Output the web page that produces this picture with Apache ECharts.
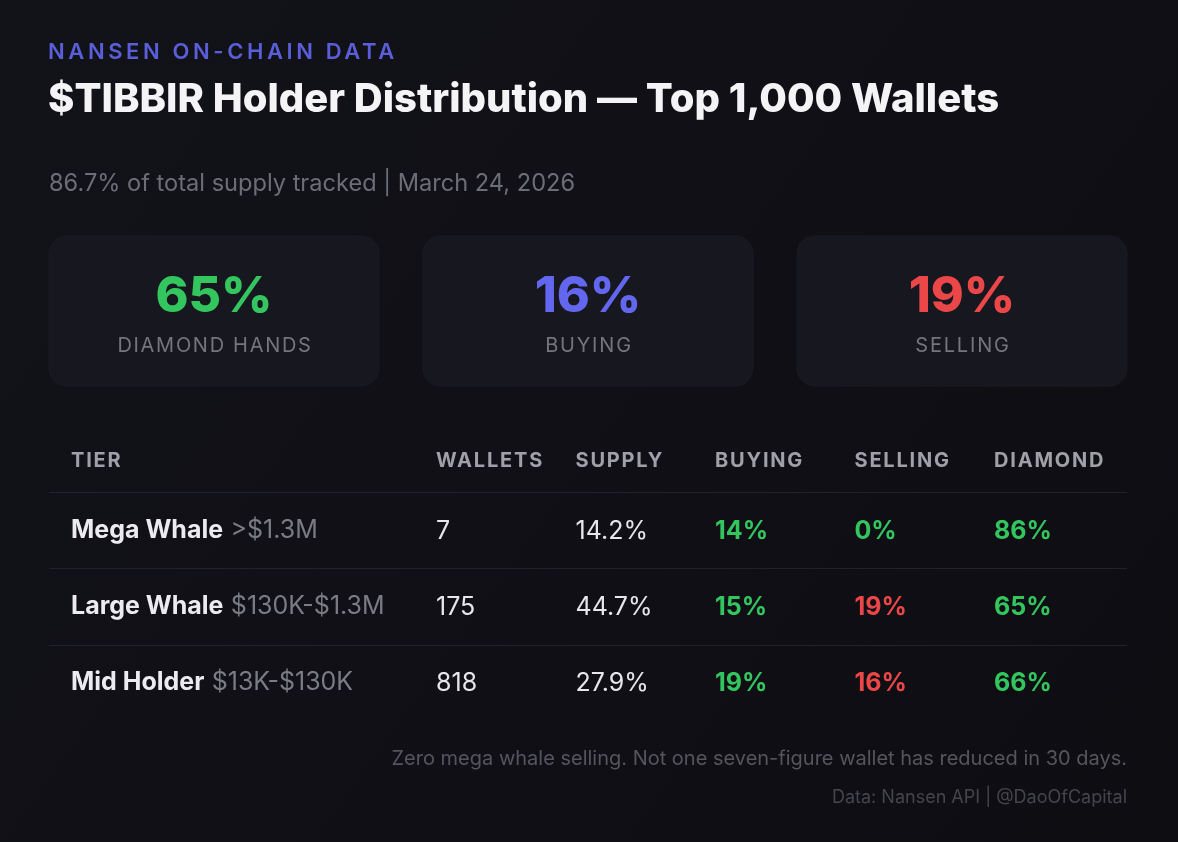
<!DOCTYPE html>
<html>
<head>
<meta charset="utf-8">
<script src="https://cdn.jsdelivr.net/npm/echarts@6/dist/echarts.min.js"></script>
<style>
  html, body { margin: 0; padding: 0; background: #0f0f15; }
  #chart { width: 1178px; height: 842px; }
</style>
</head>
<body>
<div id="chart"></div>
<script>
// ---- data ----
const kicker = 'NANSEN ON-CHAIN DATA';
const headline = '$TIBBIR Holder Distribution \u2014 Top 1,000 Wallets';
const subline = '86.7% of total supply tracked | March 24, 2026';
const cardLabels = ['DIAMOND HANDS', 'BUYING', 'SELLING'];
const cardValues = [65, 16, 19];
const columns = ['WALLETS', 'SUPPLY', 'BUYING', 'SELLING', 'DIAMOND'];
const tierHeader = 'TIER';
const tiers = ['Mega Whale', 'Large Whale', 'Mid Holder'];
const tierRanges = ['>$1.3M', '$130K-$1.3M', '$13K-$130K'];
const wallets = [7, 175, 818];
const supplyPct = [14.2, 44.7, 27.9];
const buyingPct = [14, 15, 19];
const sellingPct = [0, 19, 16];
const diamondPct = [86, 65, 66];
const note = 'Zero mega whale selling. Not one seven-figure wallet has reduced in 30 days.';
const credit = 'Data: Nansen API | @DaoOfCapital';

// ---- style ----
const FONT = 'Inter, "Noto Sans", sans-serif';
const GREEN = '#33c65f';
const RED = '#ec4748';
const INDIGO = '#6366ee';
const cardColors = [GREEN, INDIGO, RED];

// letter tracking for the small-caps style labels (canvas letterSpacing)
const tracking = new Map();
tracking.set(kicker, '3.6px');
cardLabels.forEach(t => tracking.set(t, '1.7px'));
columns.forEach(t => tracking.set(t, '1.8px'));
tracking.set(tierHeader, '1.8px');
const origFillText = CanvasRenderingContext2D.prototype.fillText;
function callFill(ctx, t, x, y, mw) {
  return mw === undefined ? origFillText.call(ctx, t, x, y) : origFillText.call(ctx, t, x, y, mw);
}
CanvasRenderingContext2D.prototype.fillText = function (t, x, y, mw) {
  if ('letterSpacing' in this) {
    const ls = tracking.get(t) || '0px';
    if (this.letterSpacing !== ls) {
      const f = this.font;
      this.letterSpacing = ls;
      this.font = f;
    }
  }
  return callFill(this, t, x, y, mw);
};

// build table cells from the arrays
const cells = [];
tiers.forEach((t, r) => {
  cells.push([0, r, String(wallets[r]), 'plain']);
  cells.push([1, r, supplyPct[r].toFixed(1) + '%', 'plain']);
  cells.push([2, r, buyingPct[r] + '%', 'good']);
  cells.push([3, r, sellingPct[r] + '%', sellingPct[r] > 0 ? 'bad' : 'good']);
  cells.push([4, r, diamondPct[r] + '%', 'good']);
});
const cellColor = { plain: '#e6e6ec', good: GREEN, bad: RED };

const chart = echarts.init(document.getElementById('chart'));
chart.setOption({
  backgroundColor: {
    type: 'linear', x: 0, y: 0, x2: 1, y2: 1,
    colorStops: [{ offset: 0, color: '#121219' }, { offset: 1, color: '#0d0d12' }]
  },
  animation: false,
  title: [
    { text: kicker, left: 48, top: 41, padding: 0,
      textStyle: { color: '#5a5ed8', fontFamily: FONT, fontSize: 22, fontWeight: 600 } },
    { text: headline, left: 48, top: 80, padding: 0,
      textStyle: { color: '#f4f4f6', fontFamily: FONT, fontSize: 40, fontWeight: 800 } },
    { text: subline, left: 49, top: 172, padding: 0,
      textStyle: { color: '#6d6d76', fontFamily: FONT, fontSize: 23.6, fontWeight: 400 } },
    { text: note, right: 51, top: 749, padding: 0,
      textStyle: { color: '#55555e', fontFamily: FONT, fontSize: 20, fontWeight: 400 } },
    { text: credit, right: 51, top: 789, padding: 0,
      textStyle: { color: '#45454e', fontFamily: FONT, fontSize: 18, fontWeight: 400 } }
  ],
  graphic: [
    { type: 'text', left: 71, top: 451,
      style: { text: tierHeader, fill: '#a0a0a8', font: '700 20px ' + FONT } }
  ],
  grid: [
    { left: 27, right: 29, top: 236, height: 150 },
    { left: 436, width: 558, top: 492, height: 229 }
  ],
  xAxis: [
    { gridIndex: 0, type: 'category', data: cardLabels, show: false },
    { gridIndex: 1, type: 'category', data: columns, boundaryGap: false, position: 'top',
      axisLine: { show: false }, axisTick: { show: false }, splitLine: { show: false },
      axisLabel: { color: '#a0a0a8', fontFamily: FONT, fontSize: 20, fontWeight: 700,
        align: 'left', verticalAlign: 'middle', margin: 31, interval: 0 } }
  ],
  yAxis: [
    { gridIndex: 0, type: 'value', min: 0, max: 1, show: false },
    { gridIndex: 1, type: 'category', data: tiers, inverse: true,
      axisLine: { show: false }, axisTick: { show: false }, splitLine: { show: false },
      axisLabel: {
        align: 'left', margin: 365, interval: 0,
        formatter: (v, i) => '{n|' + v + '} {r|' + tierRanges[i] + '}',
        rich: {
          n: { color: '#ebebf0', fontFamily: FONT, fontSize: 25, fontWeight: 700 },
          r: { color: '#7b7b84', fontFamily: FONT, fontSize: 25, fontWeight: 400, padding: [0, 0, 0, 4] }
        }
      } }
  ],
  series: [
    {
      type: 'custom', xAxisIndex: 0, yAxisIndex: 0,
      data: cardValues.map((v, i) => [i, v]),
      renderItem: (params, api) => {
        const i = api.value(0);
        const c = api.coord([i, 0.5]);
        const bw = api.size([1, 0])[0];
        const cs = params.coordSys;
        const w = bw - 44;
        return {
          type: 'group',
          children: [
            { type: 'rect', shape: { x: c[0] - w / 2, y: cs.y, width: w, height: cs.height, r: 18 },
              style: { fill: '#17171f', stroke: '#1b1b23', lineWidth: 1 } },
            { type: 'text', x: c[0], y: cs.y + 61,
              style: { text: api.value(1) + '%', fill: cardColors[i], font: '800 50px ' + FONT,
                align: 'center', verticalAlign: 'middle' } },
            { type: 'text', x: c[0] + 1, y: cs.y + 110,
              style: { text: cardLabels[i], fill: '#75757e', font: '400 20px ' + FONT,
                align: 'center', verticalAlign: 'middle' } }
          ]
        };
      }
    },
    {
      type: 'custom', xAxisIndex: 1, yAxisIndex: 1,
      data: cells,
      renderItem: (params, api) => {
        const col = api.value(0), row = api.value(1);
        const p = api.coord([col, row]);
        const bh = api.size([0, 1])[1];
        const kind = cells[params.dataIndex][3];
        const children = [
          { type: 'text', x: p[0], y: p[1] + 1,
            style: { text: cells[params.dataIndex][2], fill: cellColor[kind],
              font: (kind === 'plain' ? '400 ' : '700 ') + '25px ' + FONT,
              align: 'left', verticalAlign: 'middle' } }
        ];
        if (col === 0) {
          const yl = Math.round(p[1] - bh / 2) + 0.5;
          children.push({ type: 'line', shape: { x1: 49, y1: yl, x2: 1127, y2: yl },
            style: { stroke: '#22222a', lineWidth: 1 } });
        }
        return { type: 'group', children };
      }
    }
  ]
});
</script>
</body>
</html>
